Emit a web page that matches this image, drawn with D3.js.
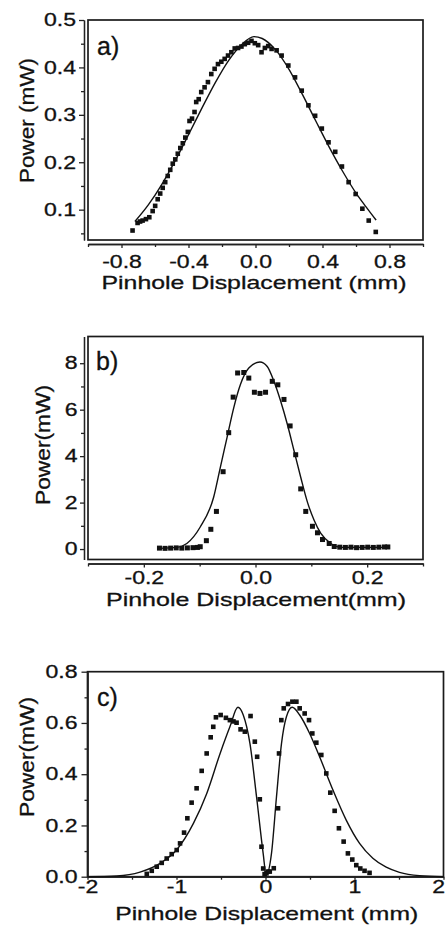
<!DOCTYPE html>
<html>
<head>
<meta charset="utf-8">
<script src="https://cdn.jsdelivr.net/npm/d3@7"></script>
<style>
  body { margin: 0; background: #fff; }
  svg { display: block; }
  text { font-family: "Liberation Sans", Arial, Helvetica, sans-serif; fill: #111; stroke: #111; stroke-width: 0.3px; }
</style>
</head>
<body>
<svg id="chart" width="445" height="929"></svg>
<script>
// ---- Panel a: measured power vs pinhole displacement, with fitted profile ----
const aMeasured = [
  [-0.734,0.056],[-0.704,0.072],[-0.689,0.075],[-0.674,0.077],[-0.654,0.080],[-0.634,0.084],
  [-0.614,0.097],[-0.599,0.108],[-0.584,0.122],[-0.569,0.134],[-0.554,0.146],[-0.539,0.158],
  [-0.524,0.171],[-0.509,0.184],[-0.494,0.197],[-0.479,0.206],[-0.464,0.218],[-0.449,0.230],
  [-0.434,0.240],[-0.419,0.252],[-0.404,0.264],[-0.394,0.287],[-0.379,0.292],[-0.364,0.306],
  [-0.354,0.327],[-0.339,0.333],[-0.324,0.348],[-0.304,0.358],[-0.284,0.369],[-0.264,0.386],
  [-0.244,0.397],[-0.224,0.407],[-0.204,0.412],[-0.184,0.418],[-0.164,0.425],[-0.144,0.432],
  [-0.124,0.440],[-0.104,0.441],[-0.084,0.444],[-0.064,0.449],[-0.044,0.452],[-0.024,0.456],
  [-0.004,0.451],[0.016,0.447],[0.036,0.432],[0.056,0.441],[0.076,0.445],[0.096,0.439],
  [0.126,0.436],[0.156,0.425],[0.196,0.404],[0.236,0.379],[0.276,0.351],[0.316,0.320],
  [0.356,0.298],[0.396,0.271],[0.436,0.242],[0.476,0.222],[0.516,0.191],[0.556,0.158],
  [0.598,0.133],[0.638,0.102],[0.676,0.077],[0.718,0.053]
];
const aFit = [
  [-0.72,0.075],[-0.64,0.110],[-0.56,0.153],[-0.48,0.203],[-0.40,0.258],[-0.32,0.314],
  [-0.24,0.368],[-0.16,0.415],[-0.08,0.449],[-0.01,0.465],[0.04,0.461],[0.12,0.437],
  [0.20,0.396],[0.28,0.343],[0.36,0.287],[0.44,0.232],[0.52,0.181],[0.60,0.135],
  [0.66,0.106],[0.72,0.078]
];
const aXTicks = [-0.8, -0.4, 0.0, 0.4, 0.8];
const aXMinor = [-1.0, -0.6, -0.2, 0.2, 0.6, 1.0];
const aYTicks = [0.1, 0.2, 0.3, 0.4, 0.5];
const aYMinor = [0.05, 0.15, 0.25, 0.35, 0.45];

// ---- Panel b ----
const bMeasured = [
  [-0.172,0.04],[-0.162,0.03],[-0.152,0.04],[-0.142,0.05],[-0.132,0.04],[-0.122,0.05],
  [-0.112,0.06],[-0.104,0.07],[-0.099,0.10],[-0.088,0.36],[-0.080,0.85],[-0.070,1.62],
  [-0.058,3.33],[-0.048,5.01],[-0.040,6.54],[-0.032,7.58],[-0.021,7.60],[-0.012,7.36],
  [-0.002,6.75],[0.008,6.70],[0.018,6.75],[0.030,7.22],[0.040,7.07],[0.051,6.44],
  [0.062,5.30],[0.072,4.06],[0.081,2.59],[0.090,1.62],[0.102,0.98],[0.111,0.70],
  [0.120,0.41],[0.132,0.24],[0.141,0.11],[0.151,0.08],[0.161,0.07],[0.171,0.08],
  [0.181,0.06],[0.191,0.07],[0.201,0.08],[0.211,0.07],[0.221,0.08],[0.231,0.09],[0.237,0.09]
];
const bFit = [
  [-0.172,0.03],[-0.141,0.07],[-0.123,0.24],[-0.099,0.95],[-0.075,2.23],[-0.063,3.52],
  [-0.051,4.80],[-0.039,6.08],[-0.027,7.08],[-0.012,7.79],[0.008,8.05],[0.021,7.86],
  [0.033,7.22],[0.045,6.37],[0.057,5.37],[0.069,4.23],[0.081,3.09],[0.093,2.02],
  [0.105,1.24],[0.117,0.67],[0.135,0.24],[0.153,0.07],[0.237,0.07]
];
const bXTicks = [-0.2, 0.0, 0.2];
const bXMinor = [-0.3, -0.1, 0.1, 0.3];
const bYTicks = [0, 2, 4, 6, 8];
const bYMinor = [1, 3, 5, 7];

// ---- Panel c: two-lobed profile ----
const cMeasured = [
  [-1.334,0.011],[-1.278,0.023],[-1.222,0.039],[-1.166,0.054],[-1.110,0.071],[-1.054,0.088],
  [-0.998,0.104],[-0.960,0.130],[-0.915,0.172],[-0.878,0.228],[-0.830,0.289],[-0.774,0.345],
  [-0.717,0.413],[-0.661,0.481],[-0.616,0.544],[-0.587,0.585],[-0.557,0.622],[-0.504,0.631],
  [-0.445,0.620],[-0.400,0.611],[-0.360,0.606],[-0.325,0.601],[-0.280,0.575],[-0.232,0.566],
  [-0.168,0.627],[-0.120,0.527],[-0.094,0.468],[-0.064,0.302],[-0.045,0.117],[-0.026,0.032],
  [-0.010,0.010],[0.011,0.013],[0.030,0.020],[0.048,0.020],[0.093,0.033],[0.141,0.267],
  [0.152,0.481],[0.178,0.611],[0.205,0.657],[0.253,0.674],[0.302,0.683],[0.347,0.683],
  [0.384,0.657],[0.440,0.637],[0.489,0.611],[0.526,0.559],[0.571,0.523],[0.627,0.475],
  [0.683,0.403],[0.728,0.328],[0.777,0.257],[0.825,0.189],[0.878,0.137],[0.926,0.091],
  [0.975,0.067],[1.020,0.045],[1.065,0.032],[1.113,0.023],[1.169,0.015]
];
const cFit = [
  [-2.0,0.000],[-1.67,0.003],[-1.41,0.018],[-1.18,0.053],[-1.00,0.104],[-0.81,0.208],
  [-0.66,0.325],[-0.51,0.481],[-0.40,0.585],[-0.31,0.661],[-0.25,0.631],[-0.175,0.520],
  [-0.10,0.310],[-0.026,0.090],[0.008,0.006],[0.067,0.090],[0.123,0.310],[0.18,0.520],
  [0.235,0.624],[0.30,0.661],[0.384,0.631],[0.496,0.559],[0.608,0.468],[0.758,0.338],
  [0.907,0.221],[1.057,0.130],[1.206,0.072],[1.356,0.037],[1.505,0.017],[1.73,0.004],[2.0,0.000]
];
const cXTicks = [-2, -1, 0, 1, 2];
const cXMinor = [-1.5, -0.5, 0.5, 1.5];
const cYTicks = [0.0, 0.2, 0.4, 0.6, 0.8];
const cYMinor = [0.1, 0.3, 0.5, 0.7];

const fmt1 = d => d.toFixed(1);
const fmt0 = d => String(d);

const panels = [
  { label: "a)", measured: aMeasured, fit: aFit,
    xDomain: [-1, 1], yDomain: [0.036, 0.5],
    xTicks: aXTicks, xMinor: aXMinor, yTicks: aYTicks, yMinor: aYMinor,
    xFmt: fmt1, yFmt: fmt1,
    xTitle: "Pinhole Displacement (mm)", yTitle: "Power (mW)",
    L: 88, R: 423, T: 20, B: 240, off: 4,
    yTick: 5, yPad: 3, xTick: 4, xPad: 7, marker: 4.6,
    labelPos: [97, 55],
    xTitlePos: [254, 289], xTitleLen: 305,
    yTitlePos: [34, 120.5], yTitleLen: 125 },
  { label: "b)", measured: bMeasured, fit: bFit,
    xDomain: [-0.3, 0.3], yDomain: [-0.45, 9.15],
    xTicks: bXTicks, xMinor: bXMinor, yTicks: bYTicks, yMinor: bYMinor,
    xFmt: fmt1, yFmt: fmt0,
    xTitle: "Pinhole Displacement(mm)", yTitle: "Power(mW)",
    L: 88, R: 423, T: 336.5, B: 559.5, off: 4,
    yTick: 4, yPad: 2.5, xTick: 4, xPad: 4, marker: 5,
    labelPos: [96, 370],
    xTitlePos: [256, 606], xTitleLen: 300,
    yTitlePos: [49.5, 445], yTitleLen: 120 },
  { label: "c)", measured: cMeasured, fit: cFit,
    xDomain: [-2, 2], yDomain: [0, 0.8],
    xTicks: cXTicks, xMinor: cXMinor, yTicks: cYTicks, yMinor: cYMinor,
    xFmt: fmt0, yFmt: fmt1,
    xTitle: "Pinhole Displacement (mm)", yTitle: "Power(mW)",
    L: 87.5, R: 443.5, T: 671.7, B: 876.7, off: 0,
    yTick: 6, yPad: 4, xTick: 3, xPad: 1, marker: 4.6,
    labelPos: [97, 706],
    xTitlePos: [266.7, 920], xTitleLen: 303,
    yTitlePos: [34.3, 757], yTitleLen: 120 }
];

const svg = d3.select("#chart");
const W = +svg.attr("width");
const TICK_FONT = 18, TICK_STRETCH = 1.28;

// widen glyphs horizontally while keeping them real text
function stretchText(sel, k) {
  sel.each(function () {
    const w = this.getComputedTextLength();
    d3.select(this).attr("textLength", w * k).attr("lengthAdjust", "spacingAndGlyphs");
  });
}

function styleAxis(g) {
  g.selectAll("path.domain").attr("stroke", "#222").attr("stroke-width", 1.3);
  g.selectAll(".tick line").attr("stroke", "#222").attr("stroke-width", 1.3);
  g.selectAll("text").attr("font-size", TICK_FONT).attr("fill", "#111")
    .style("font-family", '"Liberation Sans", Arial, sans-serif');
}

panels.forEach(p => {
  const g = svg.append("g");
  const x = d3.scaleLinear().domain(p.xDomain).range([p.L, p.R]);
  const y = d3.scaleLinear().domain(p.yDomain).range([p.B, p.T]);

  // plot frame
  g.append("rect")
    .attr("x", p.L).attr("y", p.T)
    .attr("width", p.R - p.L).attr("height", p.B - p.T)
    .attr("fill", "none").attr("stroke", "#1a1a1a").attr("stroke-width", 1.7);

  // y axis: major ticks with labels, minor ticks without
  const yAxisG = g.append("g").attr("transform", `translate(${p.L - p.off},0)`);
  yAxisG.call(d3.axisLeft(y).tickValues(p.yTicks).tickFormat(p.yFmt)
    .tickSize(p.yTick).tickSizeOuter(0).tickPadding(p.yPad));
  styleAxis(yAxisG);
  stretchText(yAxisG.selectAll("text"), TICK_STRETCH);
  const yMinorG = g.append("g").attr("transform", `translate(${p.L - p.off},0)`);
  yMinorG.call(d3.axisLeft(y).tickValues(p.yMinor).tickFormat("").tickSize(3).tickSizeOuter(0));
  styleAxis(yMinorG);

  // x axis
  const xAxisG = g.append("g").attr("transform", `translate(0,${p.B + p.off})`);
  xAxisG.call(d3.axisBottom(x).tickValues(p.xTicks).tickFormat(p.xFmt)
    .tickSize(p.xTick).tickSizeOuter(0).tickPadding(p.xPad));
  styleAxis(xAxisG);
  stretchText(xAxisG.selectAll("text"), TICK_STRETCH);
  // a label sitting on the page edge is pulled inside so it stays readable
  xAxisG.selectAll(".tick").each(function (d) {
    if (x(d) + 6 > W) {
      d3.select(this).select("text").attr("text-anchor", "end").attr("x", W - x(d) - 0.5);
    }
  });
  const xMinorG = g.append("g").attr("transform", `translate(0,${p.B + p.off})`);
  xMinorG.call(d3.axisBottom(x).tickValues(p.xMinor).tickFormat("").tickSize(3).tickSizeOuter(0));
  styleAxis(xMinorG);

  // fitted curve
  const line = d3.line().x(d => x(d[0])).y(d => y(d[1])).curve(d3.curveMonotoneX);
  g.append("path").datum(p.fit)
    .attr("d", line)
    .attr("fill", "none").attr("stroke", "#111").attr("stroke-width", 1.4);

  // measured points as small filled squares
  g.selectAll("rect.pt").data(p.measured).join("rect")
    .attr("class", "pt")
    .attr("x", d => x(d[0]) - p.marker / 2)
    .attr("y", d => y(d[1]) - p.marker / 2)
    .attr("width", p.marker).attr("height", p.marker)
    .attr("fill", "#111");

  // panel label
  g.append("text").attr("x", p.labelPos[0]).attr("y", p.labelPos[1])
    .attr("font-size", 25).text(p.label);

  // axis titles
  g.append("text")
    .attr("x", p.xTitlePos[0]).attr("y", p.xTitlePos[1])
    .attr("text-anchor", "middle").attr("font-size", 19)
    .attr("textLength", p.xTitleLen).attr("lengthAdjust", "spacingAndGlyphs")
    .text(p.xTitle);
  g.append("text")
    .attr("transform", `translate(${p.yTitlePos[0]},${p.yTitlePos[1]}) rotate(-90)`)
    .attr("text-anchor", "middle").attr("font-size", 20)
    .attr("textLength", p.yTitleLen).attr("lengthAdjust", "spacingAndGlyphs")
    .text(p.yTitle);
});
</script>
</body>
</html>
